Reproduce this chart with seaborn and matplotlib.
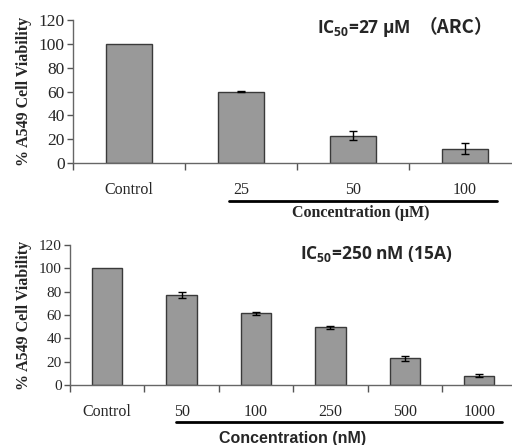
import numpy as np
import pandas as pd
import seaborn as sns
from matplotlib import pyplot as plt

# top panel: ARC (uM)
arc_labels = ["Control", "25", "50", "100"]
arc_viability = [100, 60, 23, 12]
arc_err = [0, 0.6, 4, 4.5]

# bottom panel: 15A (nM)
a15_labels = ["Control", "50", "100", "250", "500", "1000"]
a15_viability = [100, 77.5, 61.5, 49.5, 23, 8]
a15_err = [0, 2.5, 1.2, 1.2, 2, 1.2]

sns.set_style("white")

serif = "Liberation Serif"
sans = "Liberation Sans"

fig = plt.figure(figsize=(5.12, 4.45), dpi=100)


def panel(rect, labels, values, errs, xmax, xtick_fs, ytick_fs, title, title_xy,
          title_fs, xlabel, xlabel_family, xlabel_x, underline, xlabel_y):
    ax = fig.add_axes(rect)
    df = pd.DataFrame({"conc": labels, "viability": values})
    sns.barplot(data=df, x="conc", y="viability", ax=ax, width=0.41,
                color="#999999", saturation=1, edgecolor="#3a3a3a", linewidth=1)
    # error bars only where an error was measured (not on control)
    idx = np.array([i for i, e in enumerate(errs) if e > 0])
    ax.errorbar(x=idx, y=np.array(values)[idx], yerr=np.array(errs)[idx],
                fmt="none", ecolor="black", elinewidth=1, capsize=3, capthick=1)
    ax.set_ylim(0, 120)
    ax.set_xlim(-0.5, xmax)
    ax.set_yticks(range(0, 121, 20))
    # boundary ticks, labels centered on categories
    ax.set_xticks(np.arange(len(labels)) - 0.5)
    ax.set_xticklabels([])
    ax.set_xticks(np.arange(len(labels)), minor=True)
    ax.set_xticklabels(labels, minor=True, fontfamily=serif, fontsize=xtick_fs)
    ax.tick_params(axis="x", which="major", direction="out", length=5,
                   width=1, color="#555555", bottom=True)
    ax.tick_params(axis="x", which="minor", length=0, pad=14)
    ax.tick_params(axis="y", direction="out", length=4, width=1,
                   color="#555555", left=True, pad=2)
    for lab in ax.get_yticklabels():
        lab.set_fontfamily(serif)
        lab.set_fontsize(ytick_fs)
    for s in ["top", "right"]:
        ax.spines[s].set_visible(False)
    for s in ["left", "bottom"]:
        ax.spines[s].set_color("#666666")
        ax.spines[s].set_linewidth(1)
    ax.set_xlabel("")
    ax.set_ylabel("% A549 Cell Viability", fontfamily=serif,
                  fontweight="bold", fontsize=11.5, labelpad=5)
    ax.text(title_xy[0], title_xy[1], title, transform=ax.transAxes,
            fontfamily="Open Sans", fontweight="bold", fontsize=title_fs,
            ha="left", va="center")
    # underline under concentration labels
    fig.add_artist(plt.Line2D([underline[0] / 512, underline[1] / 512],
                              [1 - underline[2] / 445] * 2,
                              color="black", linewidth=2))
    fig.text(xlabel_x / 512, 1 - xlabel_y / 445,
             xlabel, ha="center", va="center", fontfamily=xlabel_family,
             fontweight="bold", fontsize=11.5)
    return ax


panel([73 / 512, 1 - 163 / 445, 439 / 512, 143 / 445],
      arc_labels, arc_viability, arc_err, -0.5 + 439 / 112, 11.5, 12.5,
      r"IC$_\mathregular{50}$=27 $\mathregular{\mu}$M", (0.555, 0.94), 12.5,
      "Concentration (μM)", serif, 361, (229, 497, 201), 213)
# full-width parentheses need a CJK font, drawn as a separate piece
fig.text(456 / 512, 1 - 28 / 445, "（ARC）", ha="center", va="center",
         fontfamily=["Noto Sans CJK SC", "DejaVu Sans"], fontweight="bold",
         fontsize=13.5)

panel([70 / 512, 1 - 385 / 445, 442 / 512, 140 / 445],
      a15_labels, a15_viability, a15_err, -0.5 + 442 / 74.4, 11.5, 11,
      r"IC$_\mathregular{50}$=250 nM (15A)", (0.52, 0.935), 12.5,
      "Concentration (nM)", sans, 293, (176, 502, 422), 438)

fig.savefig("out.png", dpi=100)
